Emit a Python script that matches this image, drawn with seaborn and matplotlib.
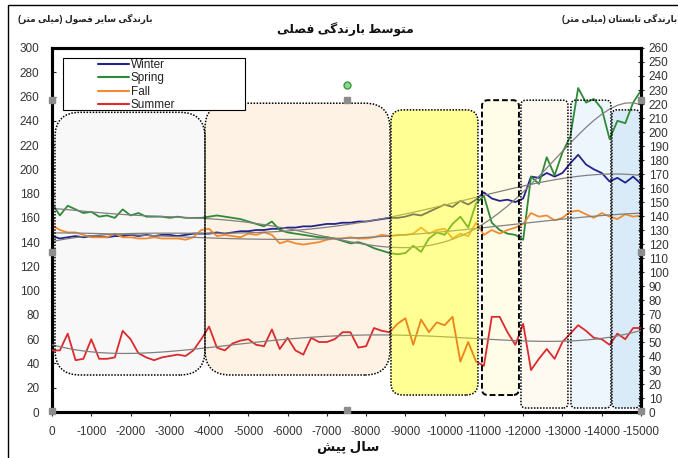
import numpy as np
import pandas as pd
import matplotlib
matplotlib.use('Agg')
import matplotlib.pyplot as plt
import seaborn as sns
from matplotlib.patches import FancyBboxPatch, Rectangle
from matplotlib.lines import Line2D

# years before present, sampled every 200 years
years = np.arange(0, -15001, -200)

winter = [145, 143, 144, 145, 144, 145, 145, 144, 145, 145,
          146, 145, 146, 145, 146, 146, 145, 146, 147, 147,
          147, 148, 147, 148, 149, 149, 150, 150, 151, 151,
          152, 152, 153, 153, 154, 155, 155, 156, 156, 157,
          157, 158, 159, 160, 160, 161, 163, 162, 165, 168,
          171, 169, 174, 171, 175, 181, 176, 174, 175, 173,
          176, 194, 193, 197, 194, 197, 205, 212, 204, 200,
          197, 190, 193, 189, 194, 188]

spring = [172, 162, 170, 167, 164, 165, 161, 162, 160, 167,
          162, 164, 161, 161, 161, 160, 161, 160, 160, 160,
          161, 162, 161, 160, 159, 157, 155, 153, 157, 150,
          148, 147, 146, 145, 144, 144, 143, 141, 139, 140,
          138, 135, 133, 131, 130, 131, 137, 132, 143, 148,
          146, 155, 161, 152, 172, 178, 156, 150, 147, 146,
          142, 194, 188, 210, 195, 214, 227, 267, 255, 258,
          250, 225, 240, 238, 255, 265]

fall = [154, 150, 148, 148, 146, 144, 144, 144, 147, 144,
        144, 143, 143, 144, 143, 143, 143, 142, 144, 150,
        151, 145, 146, 145, 144, 147, 146, 148, 146, 139,
        141, 139, 138, 139, 140, 142, 143, 143, 144, 143,
        143, 144, 146, 145, 146, 146, 147, 152, 147, 150,
        151, 143, 147, 145, 156, 146, 150, 147, 150, 152,
        155, 164, 161, 162, 158, 160, 165, 166, 163, 160,
        164, 161, 159, 163, 161, 162]

# summer is read on the right-hand axis
summer = [44, 44, 56, 37, 38, 52, 38, 38, 39, 58,
          52, 42, 39, 37, 39, 40, 41, 40, 44, 52,
          61, 46, 44, 49, 51, 52, 48, 47, 59, 45,
          53, 44, 41, 53, 50, 50, 52, 57, 57, 46,
          47, 60, 58, 57, 63, 67, 48, 66, 57, 64,
          62, 68, 36, 50, 36, 33, 68, 68, 57, 48,
          63, 30, 38, 45, 38, 50, 56, 62, 58, 53,
          52, 48, 56, 52, 60, 60]

series_names = ['Winter', 'Spring', 'Fall', 'Summer']
series_colors = ['#23238c', '#2e8a38', '#f28a30', '#dc2a2e']
trend_degree = {'Winter': 4, 'Spring': 6, 'Fall': 4, 'Summer': 4}

title_fa = 'متوسط بارندگی فصلی'
left_label_fa = 'بارندگی سایر فصول (میلی متر)'
right_label_fa = 'بارندگی تابستان (میلی متر)'
xlabel_fa = 'سال پیش'

x_ticks = np.arange(0, -15001, -1000)
x_ticklabels = [str(v) for v in x_ticks]

# shaded periods: (start year, end year, bottom, top, fill, alpha, over lines, style, corner px)
periods = [
    (-76, -3896, 30.5, 247, '#f8f8f8', 1.0, False, 'dotted', 25),
    (-3896, -8607, 30.5, 254.5, '#fdf2e3', 1.0, False, 'dotted', 25),
    (-8633, -10848, 14, 249, '#ffff00', 0.42, True, 'dotted', 12),
    (-10950, -11892, 14, 257, '#fffde8', 1.0, False, 'dashed', 6),
    (-11943, -13140, 3.3, 257, '#fffaf1', 1.0, False, 'dotted', 5),
    (-13216, -14235, 3.3, 257, '#eef6fd', 1.0, False, 'dotted', 5),
    (-14260, -14973, 3.3, 249, '#d9eaf8', 1.0, False, 'dotted', 5),
]


# crude persian shaping: presentation forms (isolated, final, initial, medial)
FORMS = {
    'ا': ('\uFE8D', '\uFE8E', None, None),
    'ب': ('\uFE8F', '\uFE90', '\uFE91', '\uFE92'),
    'ت': ('\uFE95', '\uFE96', '\uFE97', '\uFE98'),
    'د': ('\uFEA9', '\uFEAA', None, None),
    'ر': ('\uFEAD', '\uFEAE', None, None),
    'س': ('\uFEB1', '\uFEB2', '\uFEB3', '\uFEB4'),
    'ش': ('\uFEB5', '\uFEB6', '\uFEB7', '\uFEB8'),
    'ص': ('\uFEB9', '\uFEBA', '\uFEBB', '\uFEBC'),
    'ط': ('\uFEC1', '\uFEC2', '\uFEC3', '\uFEC4'),
    'ف': ('\uFED1', '\uFED2', '\uFED3', '\uFED4'),
    'ل': ('\uFEDD', '\uFEDE', '\uFEDF', '\uFEE0'),
    'م': ('\uFEE1', '\uFEE2', '\uFEE3', '\uFEE4'),
    'ن': ('\uFEE5', '\uFEE6', '\uFEE7', '\uFEE8'),
    'و': ('\uFEED', '\uFEEE', None, None),
    'پ': ('\uFB56', '\uFB57', '\uFB58', '\uFB59'),
    'گ': ('\uFB92', '\uFB93', '\uFB94', '\uFB95'),
    'ی': ('\uFBFC', '\uFBFD', '\uFBFE', '\uFBFF'),
}


def fa(text):
    out = []
    for i, ch in enumerate(text):
        if ch not in FORMS:
            out.append(ch)
            continue
        prev = text[i - 1] if i > 0 else ''
        nxt = text[i + 1] if i + 1 < len(text) else ''
        join_prev = prev in FORMS and FORMS[prev][2] is not None
        join_next = nxt in FORMS and FORMS[ch][2] is not None
        iso, fin, ini, med = FORMS[ch]
        if join_prev and join_next:
            out.append(med)
        elif join_prev:
            out.append(fin)
        elif join_next:
            out.append(ini)
        else:
            out.append(iso)
    s = ''.join(out)[::-1]
    return s.translate(str.maketrans('()', ')('))


df = pd.DataFrame({'year': years, 'Winter': winter, 'Spring': spring,
                   'Fall': fall, 'Summer': summer})

sns.set_theme(style='white')
plt.rcParams['font.family'] = ['Liberation Sans', 'DejaVu Sans']

fig = plt.figure(figsize=(6.78, 4.58), dpi=100)
ax = fig.add_axes([0.0767, 0.1004, 0.8687, 0.7948])
ax2 = ax.twinx()

# main series + polynomial trend lines
for name, col in zip(series_names, series_colors):
    target = ax2 if name == 'Summer' else ax
    sns.lineplot(data=df, x='year', y=name, ax=target, color=col, lw=1.3, zorder=3)
    xs = df['year'] / 15000.0
    coef = np.polyfit(xs, df[name], trend_degree[name])
    sns.lineplot(x=df['year'], y=np.polyval(coef, xs), ax=target,
                 color='#808080', lw=0.9, zorder=4)

# period boxes: pale ones under the lines, the yellow one translucent on top
px_x = 589 / 15000.0
px_y = 364 / 300.0
for x0, x1, y0, y1, fc, al, over, st, r in periods:
    rs = r / px_x
    asp = (r / px_y) / rs
    ls = (0, (3, 1.5)) if st == 'dashed' else (0, (1, 1))
    lw = 1.4 if st == 'dashed' else 1.1
    fill = FancyBboxPatch((x1, y0), x0 - x1, y1 - y0,
                          boxstyle=f'round,pad=0,rounding_size={rs}',
                          mutation_aspect=asp, transform=ax.transData,
                          facecolor=fc, alpha=al, edgecolor='none',
                          zorder=5 if over else 1)
    edge = FancyBboxPatch((x1, y0), x0 - x1, y1 - y0,
                          boxstyle=f'round,pad=0,rounding_size={rs}',
                          mutation_aspect=asp, transform=ax.transData,
                          facecolor='none', edgecolor='black', lw=lw,
                          linestyle=ls, zorder=6)
    (ax2 if over else ax).add_patch(fill)
    ax2.add_patch(edge)

ax.set_xlim(0, -15000)
ax.set_ylim(0, 300)
ax2.set_ylim(0, 260)
ax.set_xticks(x_ticks)
ax.set_xticklabels(x_ticklabels)
ax.set_yticks(np.arange(0, 301, 20))
ax2.set_yticks(np.arange(0, 261, 10))
ax.set_xlabel('')
ax.set_ylabel('')
ax2.set_ylabel('')

for a in (ax, ax2):
    for sp in a.spines.values():
        sp.set_linewidth(2.2)
        sp.set_color('black')
ax.tick_params(axis='x', direction='out', length=3, width=0.8, pad=7,
               labelsize=8.5, labelcolor='#333333', bottom=True)
ax.tick_params(axis='y', direction='in', length=3, width=0.8, pad=9,
               labelsize=8.5, labelcolor='#333333', left=True)
ax2.tick_params(axis='y', direction='inout', length=5, width=0.8, pad=3,
                labelsize=8.5, labelcolor='#333333', right=True)

# legend (frame drawn separately so entries sit indented)
handles = [Line2D([], [], color=c, lw=1.5) for c in series_colors]
leg = ax2.legend(handles, series_names, loc='upper left',
                 bbox_to_anchor=(0.078, 0.969), frameon=False, fontsize=8.5,
                 handlelength=2.6, handletextpad=0.2, labelspacing=0.1,
                 borderpad=0, borderaxespad=0)
leg.set_zorder(10)
for t in leg.get_texts():
    t.set_color('#222222')
ax2.add_patch(Rectangle((0.0187, 0.8297), 0.309, 0.1428, transform=ax.transAxes,
                        facecolor='white', edgecolor='black', lw=0.8, zorder=9))

# texts
fig.text(345 / 678, 1 - 30 / 458, fa(title_fa), ha='center', va='center',
         fontsize=8.8, fontweight='bold', color='#111111')
fig.text(18 / 678, 1 - 19 / 458, fa(left_label_fa), ha='left', va='center',
         fontsize=6.4, fontweight='bold', color='#222222')
fig.text(562 / 678, 1 - 19 / 458, fa(right_label_fa), ha='left', va='center',
         fontsize=6.3, fontweight='bold', color='#222222')
fig.text(348 / 678, 1 - 448 / 458, fa(xlabel_fa), ha='center', va='center',
         fontsize=9.5, fontweight='bold', color='#111111')

# outer chart frame
fig.add_artist(Rectangle((8 / 678, -0.05), 1.0, 1.039, transform=fig.transFigure,
                         fill=False, edgecolor='black', lw=1))

# selection handles left over from the editor
hx = [52, 52, 52, 347, 347, 641, 641, 641]
hy = [100, 252, 411, 100, 410, 100, 252, 411]
for x, y in zip(hx, hy):
    fig.add_artist(Line2D([x / 678], [1 - y / 458], transform=fig.transFigure,
                          marker='s', ms=4.5, color='#8c8c8c', ls='none', zorder=20))
fig.add_artist(Line2D([347 / 678], [1 - 85 / 458], transform=fig.transFigure,
                      marker='o', ms=5, mfc='#8fd48f', mec='#3c9a3c', ls='none', zorder=20))

fig.savefig('out.png', dpi=100)
